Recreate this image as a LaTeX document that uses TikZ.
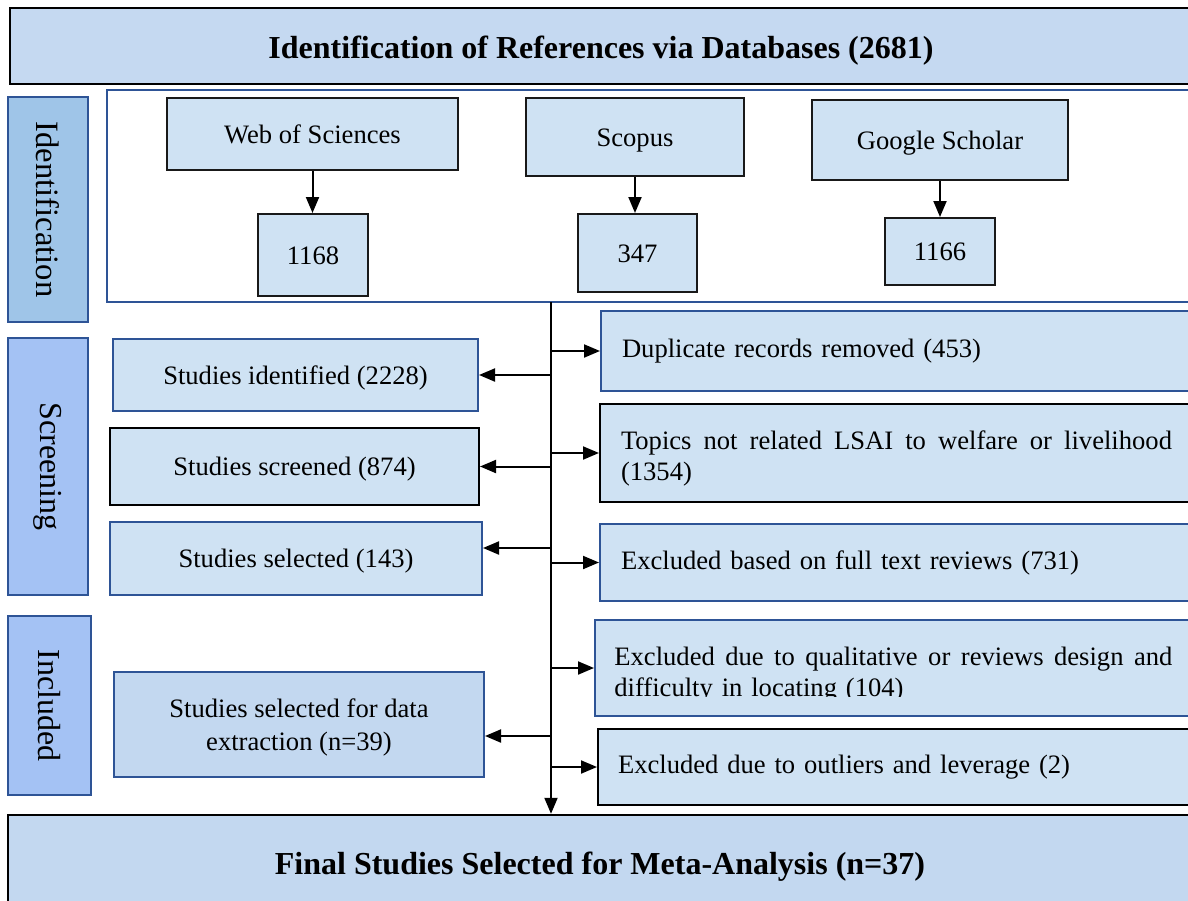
\documentclass[tikz,border=0pt]{standalone}
\usepackage{fontspec}
\setmainfont{Liberation Serif}
\usetikzlibrary{arrows.meta,calc}
\definecolor{hdrfill}{HTML}{C5D9F1}
\definecolor{boxfill}{HTML}{CFE2F3}
\definecolor{darkfill}{HTML}{C3D8F0}
\definecolor{lblA}{HTML}{9FC5E8}
\definecolor{lblB}{HTML}{A4C2F4}
\definecolor{bordblue}{HTML}{2E5496}
\tikzset{
  x=0.5pt, y=-0.5pt,
  basebox/.style={draw, line width=1pt, inner sep=0pt, font=\fontsize{13.3}{16.5}\selectfont},
  lowtxt/.style={text height=11pt, text depth=1.7pt},
  bbox/.style={basebox, draw=black!90, fill=boxfill},
  ubox/.style={basebox, draw=bordblue, fill=boxfill},
  lbl/.style={draw=bordblue, line width=1pt, rotate=-90, inner sep=0pt, font=\fontsize{16}{19}\selectfont},
  rbox/.style={anchor=west, align=left, inner xsep=10.5pt, inner ysep=0pt, text width=277pt,
    font=\fontsize{13.3}{15.5}\selectfont, line width=1pt, fill=boxfill},
  arr/.style={line width=1pt, -{Triangle[length=8pt,width=6.5pt]}},
  bigtxt/.style={font=\fontsize{16}{19}\selectfont\bfseries, text height=14pt, text depth=1.8pt},
}
\begin{document}
\begin{tikzpicture}
\useasboundingbox (0,0) rectangle (1188,900);
\clip (0,0) rectangle (1188,900);
\fill[white] (0,0) rectangle (1188,900);

% header
\node[draw=black, line width=1.2pt, fill=hdrfill, minimum width=591pt, minimum height=38pt, inner sep=0pt, bigtxt]
  (hdr) at (601,46) {Identification of References via Databases (2681)};

% stage labels
\node[lbl, fill=lblA, minimum width=112.5pt, minimum height=40pt, font=\fontsize{16.3}{19}\selectfont]
  (lid) at (48,209.5) {Identification};
\node[lbl, fill=lblB, minimum width=128.5pt, minimum height=40pt] (lsc) at (48,466.5) {Screening};
\node[lbl, fill=lblB, minimum width=89.5pt, minimum height=41.5pt] (lin) at (49.5,705.5) {Included};

% identification area
\node[draw=bordblue, line width=1pt, fill=white, minimum width=544.5pt, minimum height=106pt, inner sep=0pt]
  (idarea) at (651.5,196) {};

\node[bbox, lowtxt, minimum width=145.5pt, minimum height=36pt] (wos) at (312.5,134) {Web of Sciences};
\node[bbox, lowtxt, minimum width=55pt, minimum height=41pt] (n1168) at (313,255) {1168};
\node[bbox, lowtxt, minimum width=109pt, minimum height=39pt] (sco) at (635,137) {Scopus};
\node[bbox, lowtxt, minimum width=59.5pt, minimum height=39pt] (n347) at (637.5,253) {347};
\node[bbox, lowtxt, minimum width=128pt, minimum height=40pt] (gs) at (940,140) {Google Scholar};
\node[bbox, lowtxt, minimum width=55pt, minimum height=33.5pt] (n1166) at (940,251.5) {1166};

\draw[arr] (wos.south) -- (wos.south |- n1168.north);
\draw[arr] (sco.south) -- (sco.south |- n347.north);
\draw[arr] (gs.south) -- (gs.south |- n1166.north);

% final box
\node[draw=black, line width=1.2pt, fill=darkfill, minimum width=592pt, minimum height=47pt, inner sep=0pt, bigtxt]
  (final) at (600,862) {Final Studies Selected for Meta-Analysis (n=37)};

% left boxes
\node[ubox, lowtxt, minimum width=182.5pt, minimum height=36pt] (sid) at (295.5,375) {Studies identified (2228)};
\node[bbox, lowtxt, draw=black, minimum width=184.5pt, minimum height=38.5pt] (ssc) at (294.5,466.5) {Studies screened (874)};
\node[ubox, lowtxt, minimum width=186pt, minimum height=36.5pt] (ssel) at (296,558.5) {Studies selected (143)};
\node[ubox, fill=darkfill, minimum width=185pt, minimum height=52.5pt, align=center] (sdata) at (299,724.5)
  {\rule{0pt}{12.5pt}Studies selected for data\\extraction (n=39)};

% right boxes
\node[rbox, draw=bordblue, minimum height=40pt] (dup) at (600,351) {Duplicate records removed (453)};
\node[rbox, draw=black, minimum height=49pt] (topics) at (599,453)
  {\makebox[275.5pt][s]{\spaceskip=4.9pt plus 1fil\relax\rule{0pt}{14.5pt}Topics not related LSAI to welfare or livelihood}\\(1354)};
\node[rbox, draw=bordblue, minimum height=38.5pt] (full) at (599,562.5) {Excluded based on full text reviews (731)};
\node[rbox, draw=bordblue, minimum height=48pt, text width=281pt] (qual) at (594,668) {};
\begin{scope}
  \clip (594,620) rectangle (1190,696);
  \node[anchor=north west, inner sep=0pt, align=left, text width=281pt, font=\fontsize{13.3}{15.5}\selectfont]
    (qualtxt) at (614,647) {\makebox[279pt][s]{\spaceskip=4.2pt plus 1fil\relax Excluded due to qualitative or reviews design and}\\difficulty in locating (104)};
\end{scope}
\node[rbox, draw=black, minimum height=38pt, inner xsep=10pt] (out) at (597,767) {Excluded due to outliers and leverage (2)};

% spine and branches
\coordinate (spinetop) at (551,302);
\draw[arr] (spinetop) -- (spinetop |- final.north);
\draw[arr] (spinetop |- sid.east) -- (sid.east);
\draw[arr] (spinetop |- ssc.east) -- (ssc.east);
\draw[arr] ([yshift=5.25pt]spinetop |- ssel.east) -- ([yshift=5.25pt]ssel.east);
\draw[arr] ([yshift=-5.75pt]spinetop |- sdata.east) -- ([yshift=-5.75pt]sdata.east);
\draw[arr] (spinetop |- dup.west) -- (dup.west);
\draw[arr] (spinetop |- topics.west) -- (topics.west);
\draw[arr] (spinetop |- full.west) -- (full.west);
\draw[arr] (spinetop |- qual.west) -- (qual.west);
\draw[arr] (spinetop |- out.west) -- (out.west);
\end{tikzpicture}
\end{document}
